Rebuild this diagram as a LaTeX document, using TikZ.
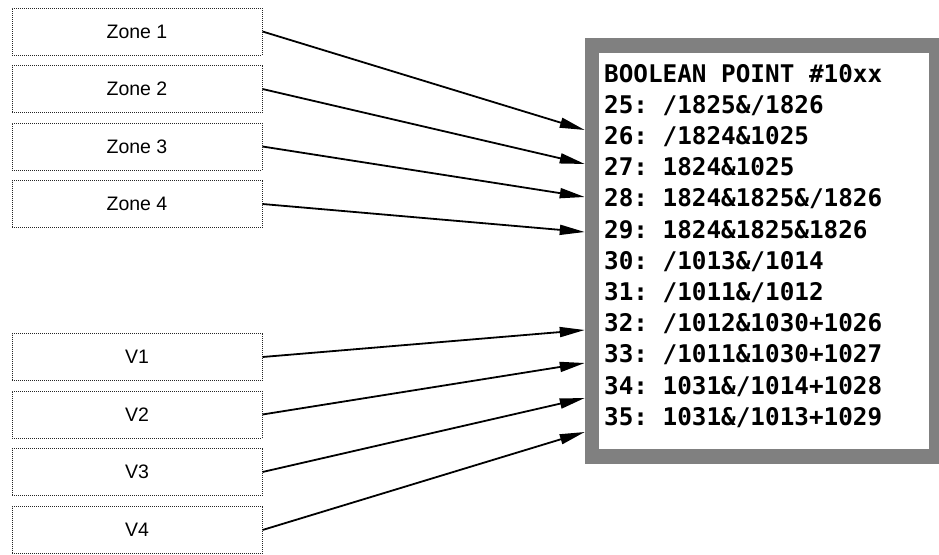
\documentclass[tikz,border=0pt]{standalone}
\usepackage{fontspec}
\setmainfont{Liberation Sans}
\setmonofont{DejaVu Sans Mono}
\usetikzlibrary{arrows.meta}
\definecolor{framegray}{HTML}{808080}
\tikzset{
  inbox/.style={draw=black!85, line width=1pt, dash pattern=on 1pt off 1pt,
    minimum width=250pt, minimum height=47pt, inner sep=0pt,
    font=\fontsize{19.5}{22}\selectfont},
  feed/.style={line width=1.8pt, -{Triangle[length=25pt,width=10pt]}},
  panel/.style={draw=framegray, line width=14.5pt, fill=white,
    minimum width=344.5pt, minimum height=411pt, inner sep=0pt},
  codeline/.style={anchor=base west, inner sep=0pt,
    font=\ttfamily\bfseries\fontsize{24.3}{28}\selectfont}
}
\begin{document}
\begin{tikzpicture}[x=1pt,y=-1pt]
\useasboundingbox (0,0) rectangle (939,554);

% input boxes
\node[inbox] (z1) at (137,31.5) {Zone 1};
\node[inbox] (z2) at (137,89) {Zone 2};
\node[inbox] (z3) at (137,146.5) {Zone 3};
\node[inbox] (z4) at (137,204) {Zone 4};
\node[inbox] (v1) at (137,357) {V1};
\node[inbox] (v2) at (137,414.5) {V2};
\node[inbox] (v3) at (137,472) {V3};
\node[inbox] (v4) at (137,530) {V4};

% boolean point panel
\node[panel] (pan) at (764.25,251) {};

\foreach \t [count=\i from 0] in {BOOLEAN POINT \#10xx, 25: /1825\&/1826,
  26: /1824\&1025, 27: 1824\&1025, 28: 1824\&1825\&/1826,
  29: 1824\&1825\&1826, 30: /1013\&/1014, 31: /1011\&/1012,
  32: /1012\&1030+1026, 33: /1011\&1030+1027, 34: 1031\&/1014+1028,
  35: 1031\&/1013+1029}
  \node[codeline] (l\i) at (604,82+31.2*\i) {\t};

% connectors
\draw[feed] (z1.east) -- (pan.west |- 0,130);
\draw[feed] (z2.east) -- (pan.west |- 0,164);
\draw[feed] (z3.east) -- (pan.west |- 0,197);
\draw[feed] (z4.east) -- (pan.west |- 0,232);
\draw[feed] (v1.east) -- (pan.west |- 0,330);
\draw[feed] (v2.east) -- (pan.west |- 0,363);
\draw[feed] (v3.east) -- (pan.west |- 0,398);
\draw[feed] (v4.east) -- (pan.west |- 0,432);
\end{tikzpicture}
\end{document}
